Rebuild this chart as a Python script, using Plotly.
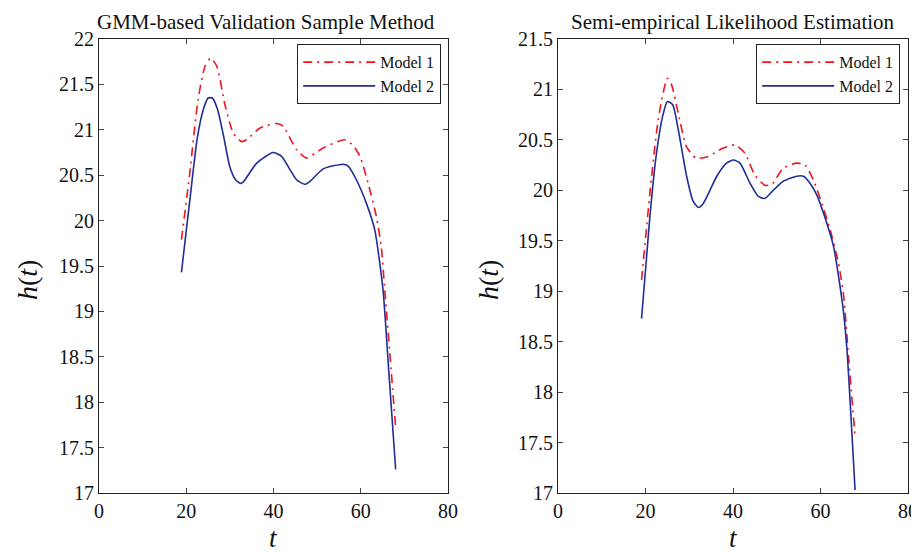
import plotly.graph_objects as go

# Left panel: GMM-based Validation Sample Method
t_l_m1 = [18.9, 20.8, 22.7, 24.3, 25.6, 27.0, 28.9, 30.8, 32.7, 33.8, 36.9, 40.7, 42.2, 45.3, 47.6,
          51.4, 56.3, 58.2, 59.8, 61.7, 63.6, 64.7, 65.5, 66.6, 68.0]
h_l_m1 = [19.79, 20.52, 21.33, 21.70, 21.79, 21.70, 21.27, 20.96, 20.87, 20.89, 21.02, 21.07, 21.04, 20.78, 20.69,
          20.80, 20.89, 20.83, 20.71, 20.41, 20.04, 19.71, 19.24, 18.58, 17.72]
t_l_m2 = [18.9, 21.0, 22.5, 23.9, 25.0, 26.0, 27.2, 28.6, 30.0, 31.3, 32.4, 33.0, 36.1, 39.9, 41.8, 45.3,
          47.2, 48.3, 51.4, 55.95, 57.1, 59.0, 61.3, 63.2, 65.1, 66.3, 68.0]
h_l_m2 = [19.43, 20.30, 20.90, 21.22, 21.35, 21.35, 21.22, 20.92, 20.59, 20.45, 20.41, 20.42, 20.63, 20.75, 20.71, 20.45,
          20.40, 20.43, 20.57, 20.62, 20.60, 20.45, 20.19, 19.90, 19.24, 18.43, 17.26]

# Right panel: Semi-empirical Likelihood Estimation
t_r_m1 = [19.1, 21.0, 22.5, 23.7, 25.0, 26.0, 27.5, 29.4, 31.5, 34.0, 37.8, 40.5, 42.7, 45.0, 47.3,
          48.9, 51.5, 54.6, 56.5, 58.4, 60.3, 62.2, 64.1, 65.3, 66.4, 67.9]
h_r_m1 = [19.11, 19.97, 20.57, 20.90, 21.11, 21.04, 20.76, 20.43, 20.32, 20.33, 20.42, 20.45, 20.37, 20.15, 20.05,
          20.06, 20.22, 20.27, 20.25, 20.10, 19.87, 19.61, 19.28, 18.95, 18.35, 17.56]
t_r_m2 = [19.1, 21.0, 22.4, 24.0, 25.0, 26.2, 27.5, 29.4, 30.9, 32.1, 33.2, 36.3, 38.5, 40.1, 41.6, 43.9,
          45.8, 47.3, 49.2, 51.5, 54.6, 56.1, 57.6, 59.2, 61.1, 63.0, 65.1, 66.0, 67.9]
h_r_m2 = [18.73, 19.74, 20.33, 20.75, 20.88, 20.85, 20.60, 20.14, 19.89, 19.83, 19.87, 20.14, 20.27, 20.30, 20.27, 20.07,
          19.94, 19.92, 20.00, 20.09, 20.14, 20.14, 20.07, 19.95, 19.72, 19.44, 18.85, 18.45, 17.03]

titles = ["GMM-based Validation Sample Method", "Semi-empirical Likelihood Estimation"]
x_ticks = [0, 20, 40, 60, 80]
y_ticks_l = [17, 17.5, 18, 18.5, 19, 19.5, 20, 20.5, 21, 21.5, 22]
y_ticks_r = [17, 17.5, 18, 18.5, 19, 19.5, 20, 20.5, 21, 21.5]

RED = "#f0141e"
BLUE = "#1f2d96"
FONT = "Liberation Serif, serif"

# page body has an 8px margin; the figure fills the rest of the 919x555 window
OFF = 8
W, H = 919 - OFF, 555 - OFF


def px(sx):
    return (sx - OFF) / W


def py(sy):
    return 1 - (sy - OFF) / H


dash_dot = "9px,5px,2px,5px"
fig = go.Figure()
fig.add_trace(go.Scatter(x=t_l_m1, y=h_l_m1, mode="lines", name="Model 1",
                         line=dict(color=RED, width=1.6, dash=dash_dot, shape="spline", smoothing=0.6),
                         xaxis="x", yaxis="y", legend="legend"))
fig.add_trace(go.Scatter(x=t_l_m2, y=h_l_m2, mode="lines", name="Model 2",
                         line=dict(color=BLUE, width=1.6, shape="spline", smoothing=0.6),
                         xaxis="x", yaxis="y", legend="legend"))
fig.add_trace(go.Scatter(x=t_r_m1, y=h_r_m1, mode="lines", name="Model 1",
                         line=dict(color=RED, width=1.6, dash=dash_dot, shape="spline", smoothing=0.6),
                         xaxis="x2", yaxis="y2", legend="legend2"))
fig.add_trace(go.Scatter(x=t_r_m2, y=h_r_m2, mode="lines", name="Model 2",
                         line=dict(color=BLUE, width=1.6, shape="spline", smoothing=0.6),
                         xaxis="x2", yaxis="y2", legend="legend2"))

ydom = [py(493), py(39)]
xdom1 = [px(99), px(448)]
xdom2 = [px(558), px(908)]


def fmt(v):
    return str(int(v)) if float(v).is_integer() else str(v)


axis_common = dict(showgrid=False, zeroline=False, showline=True, linecolor="#222", linewidth=1.2,
                   mirror="ticks", ticks="inside", ticklen=5, tickcolor="#444", automargin=False,
                   ticklabeloverflow="allow",
                   tickfont=dict(family=FONT, size=20, color="#111"))

legend_common = dict(xanchor="right", yanchor="top", bgcolor="white",
                     bordercolor="#222", borderwidth=1.2, font=dict(family=FONT, size=16, color="#111"),
                     tracegroupgap=0, itemwidth=72)

fig.update_layout(
    template="none",
    width=W, height=H,
    margin=dict(l=0, r=0, t=0, b=0, pad=0, autoexpand=False),
    paper_bgcolor="white", plot_bgcolor="white",
    font=dict(family=FONT, color="#111"),
    xaxis=dict(domain=xdom1, range=[0, 80], tickvals=x_ticks, ticktext=[fmt(v) for v in x_ticks], anchor="y", **axis_common),
    yaxis=dict(domain=ydom, range=[17, 22], tickvals=y_ticks_l, ticktext=[fmt(v) for v in y_ticks_l], anchor="x", **axis_common),
    xaxis2=dict(domain=xdom2, range=[0, 80], tickvals=x_ticks, ticktext=[fmt(v) for v in x_ticks], anchor="y2", **axis_common),
    yaxis2=dict(domain=ydom, range=[17, 21.5], tickvals=y_ticks_r, ticktext=[fmt(v) for v in y_ticks_r], anchor="x2", **axis_common),
    legend=dict(x=px(441), y=py(44), **legend_common),
    legend2=dict(x=px(900), y=py(44), **legend_common),
    showlegend=True,
    annotations=[
        dict(text=titles[0], x=px(266), y=1, xref="paper", yref="paper", showarrow=False,
             font=dict(family=FONT, size=21, color="#111"), xanchor="center", yanchor="top"),
        dict(text=titles[1], x=px(733), y=1, xref="paper", yref="paper", showarrow=False,
             font=dict(family=FONT, size=21, color="#111"), xanchor="center", yanchor="top"),
        dict(text="<i>t</i>", x=px(273), y=py(538), xref="paper", yref="paper", showarrow=False,
             font=dict(family=FONT, size=27, color="#111"), xanchor="center", yanchor="middle"),
        dict(text="<i>t</i>", x=px(733), y=py(538), xref="paper", yref="paper", showarrow=False,
             font=dict(family=FONT, size=27, color="#111"), xanchor="center", yanchor="middle"),
        dict(text="<i>h</i>(<i>t</i>)", x=px(27), y=py(280), xref="paper", yref="paper", showarrow=False,
             textangle=-90, font=dict(family=FONT, size=28, color="#111"), xanchor="center", yanchor="middle"),
        dict(text="<i>h</i>(<i>t</i>)", x=px(488), y=py(280), xref="paper", yref="paper", showarrow=False,
             textangle=-90, font=dict(family=FONT, size=28, color="#111"), xanchor="center", yanchor="middle"),
    ],
)

fig.write_html("out.html")
